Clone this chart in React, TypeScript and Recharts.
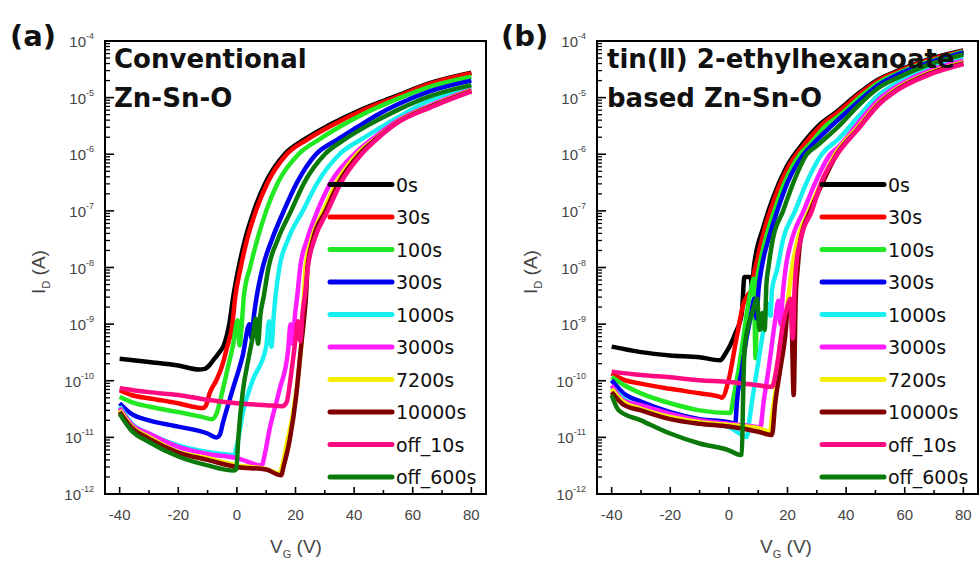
import React from 'react';
import { LineChart, Line, XAxis, YAxis, Legend, ReferenceArea } from 'recharts';

const seriesNames = ['0s', '30s', '100s', '300s', '1000s', '3000s', '7200s', '10000s', 'off_10s', 'off_600s'];
const seriesColors = ['#000000', '#FF0000', '#22E822', '#0000F0', '#18F0F0', '#FF1CFF', '#F5EE00', '#800000', '#FF0A80', '#0B7A0B'];

const xTicks = [-40, -30, -20, -10, 0, 10, 20, 30, 40, 50, 60, 70, 80];
const xLabelTicks = [-40, -20, 0, 20, 40, 60, 80];
const yDecades = [1e-12, 1e-11, 1e-10, 1e-9, 1e-8, 1e-7, 1e-6, 1e-5, 1e-4];
const yExponents = ['-12', '-11', '-10', '-9', '-8', '-7', '-6', '-5', '-4'];
const yMinorMultipliers = [2, 3, 4, 5, 6, 7, 8, 9];

// ---------- panel (a): conventional Zn-Sn-O  [V_G (V), I_D (A)] ----------
const a_0s = [[-40, 2.45e-10], [-30, 2.14e-10], [-20, 1.86e-10], [-13, 1.58e-10], [-11, 1.62e-10], [-9.3, 1.9e-10], [-7.8, 2.4e-10], [-6, 3.16e-10], [-4.5, 4.2e-10], [-2.6, 1e-9], [-1.2, 3.16e-9], [0.6, 1e-8], [2.8, 3.16e-8], [5.8, 1e-7], [9.8, 3.16e-7], [16.3, 1e-6], [23.3, 1.86e-6], [31.3, 3.24e-6], [42.5, 6.17e-6], [54, 1.05e-5], [65.5, 1.78e-5], [80, 2.75e-5]];
const a_30s = [[-40, 6.8e-11], [-36, 5.6e-11], [-30, 4.9e-11], [-20, 4.0e-11], [-14, 3.4e-11], [-11.5, 3.3e-11], [-10.4, 3.8e-11], [-9.3, 6.0e-11], [-7, 1.02e-10], [-4.8, 2.0e-10], [-3.6, 3.5e-10], [-1.6, 9.5e-10], [-0.5, 3.16e-9], [1.3, 1e-8], [3.5, 3.16e-8], [6.5, 1e-7], [10.5, 3.16e-7], [17, 1e-6], [24, 1.82e-6], [32, 3.16e-6], [43, 6.0e-6], [54.4, 1.02e-5], [65.7, 1.74e-5], [80, 2.7e-5]];
const a_100s = [[-40, 5.2e-11], [-36, 4.2e-11], [-30, 3.5e-11], [-20, 2.8e-11], [-12, 2.3e-11], [-8.5, 2.1e-11], [-7, 2.6e-11], [-5, 6.3e-11], [-3, 1.78e-10], [-1.4, 4.0e-10], [0.3, 1.17e-9], [0.9, 4.2e-10], [1.8, 1.26e-9], [2.4, 3.16e-9], [4.5, 1e-8], [7, 3.16e-8], [10, 1e-7], [14, 3.16e-7], [21, 1e-6], [28, 1.82e-6], [35.5, 3.16e-6], [43, 5.1e-6], [54.4, 9.3e-6], [65.7, 1.55e-5], [80, 2.34e-5]];
const a_300s = [[-40, 4.0e-11], [-36, 2.6e-11], [-30, 2.0e-11], [-20, 1.55e-11], [-10, 1.17e-11], [-7, 1.0e-11], [-5.8, 1.12e-11], [-4.8, 1.78e-11], [-1.4, 7.1e-11], [2, 2.8e-10], [4.3, 1.0e-9], [5, 5.6e-10], [5.8, 1.41e-9], [6.8, 3.16e-9], [8.8, 1e-8], [12, 3.16e-8], [16, 1e-7], [20.5, 3.16e-7], [27, 1e-6], [34, 1.78e-6], [41, 3.0e-6], [48, 5.0e-6], [54.4, 7.4e-6], [65.7, 1.29e-5], [80, 2.0e-5]];
const a_1000s = [[-40, 3.5e-11], [-36, 1.78e-11], [-30, 1.17e-11], [-20, 7.2e-12], [-10, 5.5e-12], [-1, 4.9e-12], [0, 7.1e-12], [2, 2.7e-11], [5.4, 1.02e-10], [10, 4.0e-10], [11, 1.12e-9], [11.8, 4.0e-10], [12.5, 1.26e-9], [13.2, 3.16e-9], [14.5, 1e-8], [17.5, 3.16e-8], [22.5, 1e-7], [27.5, 3.16e-7], [35, 1e-6], [43, 1.9e-6], [51, 3.4e-6], [65.7, 8.9e-6], [80, 1.55e-5]];
const a_3000s = [[-40, 3.3e-11], [-36, 1.7e-11], [-30, 1.17e-11], [-20, 6.8e-12], [-10, 5.1e-12], [0, 4.3e-12], [8.5, 3.2e-12], [9.5, 5.0e-12], [11.1, 1.35e-11], [14.5, 6.8e-11], [17.5, 3.5e-10], [18.3, 1e-9], [19, 4.5e-10], [19.8, 1.41e-9], [20.6, 3.16e-9], [21.6, 1e-8], [24, 3.16e-8], [27.5, 1e-7], [32, 3.16e-7], [40, 1e-6], [47, 2.0e-6], [54.4, 3.8e-6], [65.7, 7.2e-6], [80, 1.38e-5]];
const a_7200s = [[-40, 3.0e-11], [-36, 1.58e-11], [-30, 1.02e-11], [-20, 5.5e-12], [-10, 4.3e-12], [0, 3.2e-12], [10, 2.75e-12], [14.5, 2.3e-12], [15.5, 3.16e-12], [16.8, 6.8e-12], [19.1, 2.6e-11], [21.4, 2.0e-10], [22.4, 8.9e-10], [22.9, 3.16e-9], [23.4, 1e-8], [25.5, 3.16e-8], [29.5, 1e-7], [34, 3.16e-7], [41, 1e-6], [48, 2.0e-6], [54.4, 3.6e-6], [65.7, 6.9e-6], [80, 1.35e-5]];
const a_10000s = [[-40, 2.8e-11], [-36, 1.51e-11], [-30, 9.5e-12], [-20, 5.4e-12], [-10, 4.0e-12], [0, 3.0e-12], [10, 2.7e-12], [15.1, 2.14e-12], [16, 3.16e-12], [18, 8.9e-12], [20.2, 5.2e-11], [21.9, 4.0e-10], [23.1, 1.55e-9], [23.6, 3.16e-9], [24.1, 1e-8], [26, 3.16e-8], [30.3, 1e-7], [34.8, 3.16e-7], [41.8, 1e-6], [48, 1.95e-6], [54.4, 3.55e-6], [65.7, 6.8e-6], [80, 1.32e-5]];
const a_off10 = [[-40, 7.4e-11], [-30, 6.3e-11], [-20, 5.6e-11], [-10, 4.6e-11], [0, 4.0e-11], [10, 3.7e-11], [15.5, 3.55e-11], [17, 4.2e-11], [18.2, 1.0e-10], [19.7, 4.0e-10], [20.8, 1.12e-9], [21.6, 5.0e-10], [22.4, 1.58e-9], [23.3, 3.55e-9], [24.2, 1e-8], [26.5, 3.16e-8], [31, 1e-7], [35.5, 3.16e-7], [42.5, 1e-6], [48, 1.9e-6], [54.4, 3.5e-6], [65.7, 6.6e-6], [80, 1.29e-5]];
const a_off600 = [[-40, 2.6e-11], [-36, 1.32e-11], [-30, 8.3e-12], [-20, 4.6e-12], [-10, 3.2e-12], [-1, 2.6e-12], [-0.2, 2.75e-12], [0.5, 1.0e-11], [2, 6.3e-11], [4, 2.5e-10], [5.5, 6.3e-10], [6.5, 1.26e-9], [7.2, 4.5e-10], [8, 1.41e-9], [9.2, 3.16e-9], [10.8, 1e-8], [14, 3.16e-8], [18.5, 1e-7], [23, 3.16e-7], [30, 1e-6], [37, 1.86e-6], [45, 3.3e-6], [54.4, 5.9e-6], [65.7, 1.05e-5], [80, 1.66e-5]];

// ---------- panel (b): tin(II) 2-ethylhexanoate based Zn-Sn-O ----------
const b_0s = [[-40, 4.0e-10], [-30, 3.2e-10], [-20, 2.8e-10], [-10, 2.6e-10], [-3, 2.3e-10], [-1.2, 3.0e-10], [2.2, 6.9e-10], [4.4, 1.55e-9], [5.3, 6.8e-9], [7.5, 6.8e-9], [7.9, 4.0e-9], [8.5, 1.0e-8], [11.8, 5.2e-8], [15.2, 1.78e-7], [19.7, 6.0e-7], [25.4, 1.58e-6], [31.4, 3.5e-6], [37, 5.75e-6], [43.6, 1.12e-5], [50.6, 2.04e-5], [57.7, 3.0e-5], [67.8, 4.7e-5], [80, 6.8e-5]];
const b_30s = [[-40, 1.35e-10], [-36, 1.05e-10], [-30, 8.9e-11], [-20, 7.2e-11], [-10, 6.0e-11], [-3, 5.2e-11], [-2.4, 5.0e-11], [-0.1, 1.02e-10], [2.7, 6.0e-10], [5, 2.3e-9], [6.5, 3.3e-9], [7.8, 4.0e-9], [8.4, 6.9e-9], [9.5, 1.26e-8], [12.4, 5.2e-8], [15.8, 1.78e-7], [20.3, 6.0e-7], [26, 1.55e-6], [32, 3.4e-6], [37.4, 5.6e-6], [44, 1.1e-5], [51, 2.0e-5], [58, 2.95e-5], [68, 4.6e-5], [80, 6.6e-5]];
const b_100s = [[-40, 1.17e-10], [-36, 8.5e-11], [-30, 6.0e-11], [-20, 4.0e-11], [-10, 3.0e-11], [0.5, 2.7e-11], [1.6, 5.2e-11], [3.3, 1.55e-10], [5, 6.0e-10], [6.1, 1.55e-9], [7.3, 3.5e-9], [8.5, 6.3e-9], [9.1, 2.5e-10], [9.7, 6.3e-9], [10.5, 1.12e-8], [12.5, 3.16e-8], [15.5, 1e-7], [19, 3.16e-7], [24.3, 1e-6], [28, 1.58e-6], [33, 3.16e-6], [37.4, 4.7e-6], [44, 9.5e-6], [51, 1.82e-5], [58, 2.75e-5], [68, 4.3e-5], [80, 6.5e-5]];
const b_300s = [[-40, 1.02e-10], [-36, 6.0e-11], [-30, 4.3e-11], [-20, 2.8e-11], [-10, 2.1e-11], [0, 1.86e-11], [2.2, 1.74e-11], [2.7, 4.0e-11], [4.4, 1.55e-10], [6.1, 6.0e-10], [7.5, 1.41e-9], [8.7, 2.8e-9], [9.4, 1.26e-9], [10.1, 4.0e-9], [11.2, 1e-8], [13.5, 3.16e-8], [16.5, 1e-7], [20, 3.16e-7], [25.5, 1e-6], [29, 1.58e-6], [35, 3.16e-6], [44, 8.3e-6], [51, 1.66e-5], [58, 2.6e-5], [68, 4.1e-5], [80, 6.2e-5]];
const b_1000s = [[-40, 7.9e-11], [-36, 4.8e-11], [-30, 3.5e-11], [-20, 2.5e-11], [-10, 1.86e-11], [0, 1.51e-11], [5, 1.07e-11], [6.1, 1.02e-11], [7, 2.0e-11], [7.8, 4.0e-11], [9.6, 1.55e-10], [11.8, 7.8e-10], [13.5, 2.3e-9], [14.2, 1.41e-9], [14.7, 4.0e-9], [16.4, 8.9e-9], [18.5, 3.16e-8], [22.6, 1e-7], [26.5, 3.16e-7], [31.7, 1e-6], [37.4, 1.86e-6], [44, 4.5e-6], [51, 1.1e-5], [58, 1.9e-5], [68, 3.3e-5], [80, 5.0e-5]];
const b_3000s = [[-40, 8.3e-11], [-36, 4.5e-11], [-30, 3.7e-11], [-20, 2.6e-11], [-10, 2.0e-11], [0, 1.74e-11], [10, 1.51e-11], [10.7, 1.45e-11], [11.8, 4.0e-11], [13.5, 1.55e-10], [15.8, 1.17e-9], [16.9, 2.6e-9], [17.6, 1e-9], [18.4, 3.5e-9], [19.4, 1e-8], [21.5, 3.16e-8], [25.5, 1e-7], [29.5, 3.16e-7], [34.6, 1e-6], [37.4, 1.35e-6], [44, 3.5e-6], [51, 9.1e-6], [58, 1.66e-5], [68, 2.95e-5], [80, 4.5e-5]];
const b_7200s = [[-40, 7.2e-11], [-36, 4.2e-11], [-30, 3.2e-11], [-20, 2.3e-11], [-10, 1.86e-11], [0, 1.66e-11], [10, 1.45e-11], [14.1, 1.26e-11], [14.8, 2.5e-11], [15.6, 5.0e-11], [17.2, 1.78e-10], [19, 7.1e-10], [20, 2.2e-9], [21.3, 7.9e-9], [23.5, 3.16e-8], [27.3, 1e-7], [31.5, 3.16e-7], [36.3, 1e-6], [44, 3.0e-6], [51, 7.9e-6], [58, 1.51e-5], [68, 2.7e-5], [80, 4.2e-5]];
const b_10000s = [[-40, 6.3e-11], [-36, 3.8e-11], [-30, 3.0e-11], [-20, 2.1e-11], [-10, 1.74e-11], [0, 1.55e-11], [10, 1.26e-11], [14.7, 1.1e-11], [15.8, 4.0e-11], [17.5, 1.55e-10], [19.2, 6.0e-10], [20.3, 2.3e-9], [21.2, 2.5e-9], [22.1, 5.6e-11], [22.8, 2.8e-9], [23.5, 1e-8], [24.5, 3.16e-8], [27.8, 1e-7], [32, 3.16e-7], [36.8, 1e-6], [44, 2.8e-6], [51, 7.6e-6], [58, 1.45e-5], [68, 2.6e-5], [80, 4.0e-5]];
const b_off10 = [[-40, 1.45e-10], [-30, 1.26e-10], [-20, 1.15e-10], [-10, 1.02e-10], [0, 9.5e-11], [10, 8.3e-11], [14.7, 7.8e-11], [16.2, 1.58e-10], [18.3, 8.9e-10], [20.3, 2.3e-9], [21, 2.8e-9], [21.8, 5.6e-10], [22.4, 4.0e-9], [22.9, 1e-8], [24.5, 3.16e-8], [28.3, 1e-7], [31.5, 3.16e-7], [37, 1e-6], [44, 2.75e-6], [51, 7.4e-6], [58, 1.41e-5], [68, 2.5e-5], [80, 3.9e-5]];
const b_off600 = [[-40, 5.6e-11], [-37.6, 3.0e-11], [-30, 2.0e-11], [-20, 1.17e-11], [-10, 7.8e-12], [0, 5.9e-12], [3.9, 4.9e-12], [4.4, 5.0e-12], [4.9, 6.3e-11], [5.3, 3.16e-10], [6.5, 8.9e-10], [8, 1.58e-9], [9.6, 2.8e-9], [10.5, 7.9e-10], [11.5, 1.58e-9], [12.2, 7.9e-10], [12.8, 5.0e-9], [13.5, 1e-8], [15, 3.16e-8], [18.5, 1e-7], [22, 3.16e-7], [26.6, 1e-6], [30, 1.41e-6], [37.4, 3.1e-6], [44, 7.1e-6], [51, 1.48e-5], [58, 2.3e-5], [68, 3.8e-5], [80, 5.75e-5]];

const panelA = [a_0s, a_30s, a_100s, a_300s, a_1000s, a_3000s, a_7200s, a_10000s, a_off10, a_off600];
const panelB = [b_0s, b_30s, b_100s, b_300s, b_1000s, b_3000s, b_7200s, b_10000s, b_off10, b_off600];

const yTicks: number[] = [];
yDecades.forEach((d, k) => {
  yTicks.push(d);
  if (k < yDecades.length - 1) yMinorMultipliers.forEach((m) => yTicks.push(m * d));
});

const toRows = (pts: number[][]) => pts.map(([v, i]) => ({ v, i }));

const TICK_FONT = '"Liberation Sans", Arial, sans-serif';
const TICK_COLOR = '#454545';

function YTick(props: any) {
  const { x, y, payload } = props;
  const idx = yDecades.indexOf(payload.value);
  if (idx >= 0) {
    return (
      <g>
        <line x1={x} x2={x + 9} y1={y} y2={y} stroke="#000" strokeWidth={1.6} />
        <text x={x - 11} y={y + 6} textAnchor="end" fontFamily={TICK_FONT} fontSize={15} fill={TICK_COLOR}>
          10<tspan dy={-8} fontSize={9}>{yExponents[idx]}</tspan>
        </text>
      </g>
    );
  }
  return <line x1={x} x2={x + 5} y1={y} y2={y} stroke="#000" strokeWidth={1.3} />;
}

function XTick(props: any) {
  const { x, y, payload } = props;
  const v = payload.value;
  const major = xLabelTicks.indexOf(v) >= 0;
  return (
    <g>
      <line x1={x} x2={x} y1={y} y2={y - (major ? 7 : 4)} stroke="#000" strokeWidth={1.6} />
      {major && (
        <text x={x} y={y + 26} textAnchor="middle" fontFamily={TICK_FONT} fontSize={15} fill={TICK_COLOR}>
          {String(v)}
        </text>
      )}
    </g>
  );
}

function LegendBox(props: any) {
  const payload: any[] = props.payload || [];
  return (
    <svg width={165} height={330} style={{ overflow: 'visible', display: 'block' }}>
      {seriesNames.map((n, k) => {
        const item = payload.find((p: any) => p.value === n);
        const color = item && item.color ? item.color : seriesColors[k];
        const cy = 16.6 + 32.5 * k;
        return (
          <g key={n}>
            <line x1={5} x2={67} y1={cy} y2={cy} stroke={color} strokeWidth={5} strokeLinecap="round" />
            <text x={71} y={cy} dominantBaseline="central" fontFamily='"DejaVu Sans", sans-serif' fontSize={19} fill="#111">
              {n}
            </text>
          </g>
        );
      })}
    </svg>
  );
}

function Panel({ series, axisWidth, rightMargin, legendLeft }: { series: number[][][]; axisWidth: number; rightMargin: number; legendLeft: number }) {
  return (
    <LineChart width={490} height={563} margin={{ top: 41, right: rightMargin, bottom: 0, left: 0 }}>
      <XAxis
        type="number"
        dataKey="v"
        domain={[-45, 85]}
        ticks={xTicks}
        interval={0}
        allowDataOverflow
        height={69}
        axisLine={false}
        tickLine={false}
        tickSize={0}
        tickMargin={0}
        tick={(p: any) => <XTick {...p} />}
      />
      <YAxis
        type="number"
        scale="log"
        domain={[1e-12, 1e-4]}
        ticks={yTicks}
        interval={0}
        allowDataOverflow
        width={axisWidth}
        axisLine={false}
        tickLine={false}
        tickSize={0}
        tickMargin={0}
        tick={(p: any) => <YTick {...p} />}
      />
      <ReferenceArea x1={-45} x2={85} y1={1e-12} y2={1e-4} fill="none" fillOpacity={0} stroke="#000" strokeWidth={2} ifOverflow="visible" />
      {series.map((pts, k) => (
        <Line
          key={seriesNames[k]}
          data={toRows(pts)}
          dataKey="i"
          name={seriesNames[k]}
          stroke={seriesColors[k]}
          strokeWidth={4.5}
          strokeLinejoin="round"
          dot={false}
          activeDot={false}
          type="monotone"
          isAnimationActive={false}
        />
      ))}
      <Legend
        layout="vertical"
        align="center"
        verticalAlign="middle"
        content={(p: any) => <LegendBox {...p} />}
        wrapperStyle={{ left: legendLeft, top: 168, width: 165, height: 330 }}
      />
    </LineChart>
  );
}

const TITLE_FONT = '"DejaVu Sans", "Noto Sans CJK KR", sans-serif';
const LABEL_FONT = '"Liberation Sans", Arial, sans-serif';

export default function App() {
  return (
    <div style={{ position: 'fixed', left: 0, top: 0, width: 979, height: 563, overflow: 'hidden', background: '#fff' }}>
      <div style={{ position: 'absolute', left: 0, top: 0 }}>
        <Panel series={panelA} axisWidth={105} rightMargin={4} legendLeft={325} />
      </div>
      <div style={{ position: 'absolute', left: 490, top: 0 }}>
        <Panel series={panelB} axisWidth={107} rightMargin={2} legendLeft={327} />
      </div>
      <svg width={979} height={563} style={{ position: 'absolute', left: 0, top: 0, pointerEvents: 'none' }}>
        <text x={10} y={46} fontFamily={TITLE_FONT} fontWeight="bold" fontSize={29} fill="#111">(a)</text>
        <text x={501} y={46} fontFamily={TITLE_FONT} fontWeight="bold" fontSize={29} fill="#111">(b)</text>
        <text x={114} y={68} fontFamily={TITLE_FONT} fontWeight="bold" fontSize={26} fill="#111">Conventional</text>
        <text x={114} y={107} fontFamily={TITLE_FONT} fontWeight="bold" fontSize={26} fill="#111">Zn-Sn-O</text>
        <text x={607} y={68} fontFamily={TITLE_FONT} fontWeight="bold" fontSize={26} fill="#111">tin(Ⅱ) 2-ethylhexanoate</text>
        <text x={607} y={107} fontFamily={TITLE_FONT} fontWeight="bold" fontSize={26} fill="#111">based Zn-Sn-O</text>
        <text x={296} y={553} textAnchor="middle" fontFamily={LABEL_FONT} fontSize={19} fill={TICK_COLOR}>
          V<tspan dy={5} fontSize={11}>G</tspan><tspan dy={-5}> (V)</tspan>
        </text>
        <text x={786} y={553} textAnchor="middle" fontFamily={LABEL_FONT} fontSize={19} fill={TICK_COLOR}>
          V<tspan dy={5} fontSize={11}>G</tspan><tspan dy={-5}> (V)</tspan>
        </text>
        <text transform="translate(45,272) rotate(-90)" textAnchor="middle" fontFamily={LABEL_FONT} fontSize={19} fill={TICK_COLOR}>
          I<tspan dy={5} fontSize={11}>D</tspan><tspan dy={-5}> (A)</tspan>
        </text>
        <text transform="translate(537,272) rotate(-90)" textAnchor="middle" fontFamily={LABEL_FONT} fontSize={19} fill={TICK_COLOR}>
          I<tspan dy={5} fontSize={11}>D</tspan><tspan dy={-5}> (A)</tspan>
        </text>
      </svg>
    </div>
  );
}
